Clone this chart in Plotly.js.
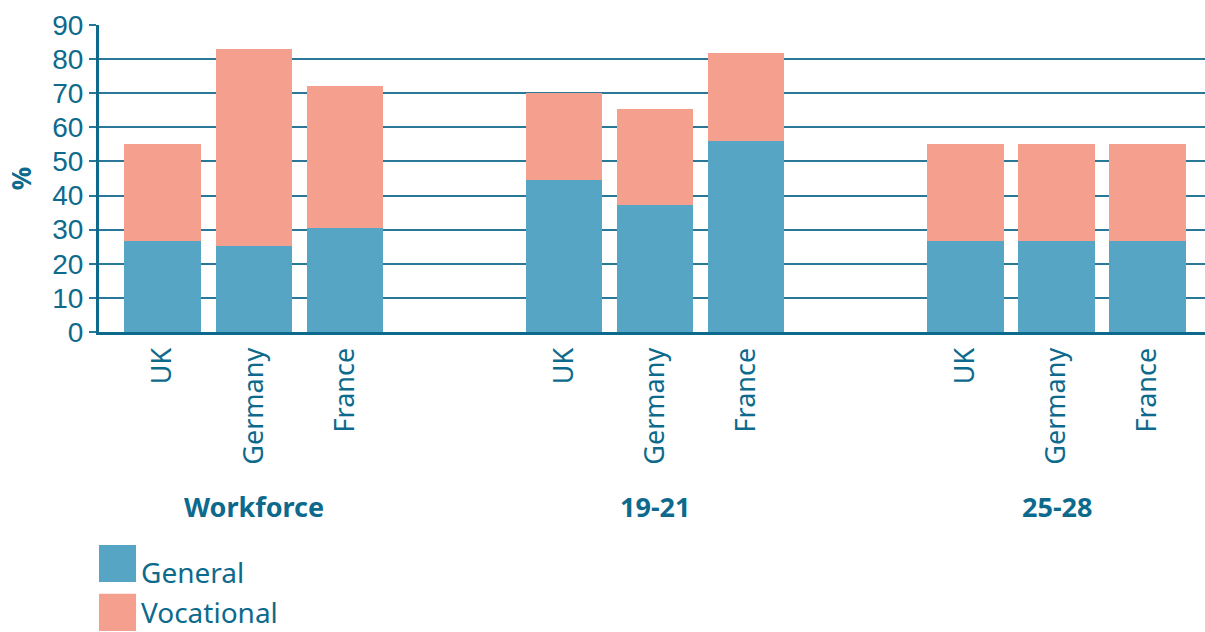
<!DOCTYPE html>
<html>
<head>
<meta charset="utf-8">
<script src="https://cdn.plot.ly/plotly-3.0.1.min.js"></script>
<style>html,body{margin:0;padding:0;background:#fff}#chart{width:1205px;height:632px}</style>
</head>
<body>
<div id="chart"></div>
<script>
const countries = ["UK", "Germany", "France", "UK", "Germany", "France", "UK", "Germany", "France"];
const groups = ["Workforce", "19-21", "25-28"];
const general = [26.7, 25.2, 30.5, 44.6, 37.2, 56.0, 26.7, 26.7, 26.7];
const vocational = [28.4, 57.8, 41.6, 25.5, 28.2, 25.8, 28.4, 28.4, 28.4];
const seriesNames = ["General", "Vocational"];
const tickVals = [0, 10, 20, 30, 40, 50, 60, 70, 80, 90];

// slot positions: three bars per group, gap between groups
const groupStart = [0, 4.41, 8.82];
const xpos = [];
groupStart.forEach(g => { for (let i = 0; i < 3; i++) xpos.push(g + i); });
const groupCenters = groupStart.map(g => g + 1);

const teal = "#0d6a8c";
const cGen = "#56a5c5";
const cVoc = "#f59f8e";
const font = "Noto Sans, Open Sans, sans-serif";

const traces = [
  {type: "bar", name: seriesNames[0], x: xpos, y: general, marker: {color: cGen, line: {width: 0}}, width: 0.84, showlegend: false, hoverinfo: "y"},
  {type: "bar", name: seriesNames[1], x: xpos, y: vocational, marker: {color: cVoc, line: {width: 0}}, width: 0.84, showlegend: false, hoverinfo: "y"}
];

const annotations = groups.map((g, i) => ({
  x: groupCenters[i], xref: "x", y: -0.57, yref: "paper", text: "<b>" + g + "</b>",
  showarrow: false, font: {family: font, size: 27, color: teal}, xanchor: "center", yanchor: "middle"
}));
annotations.push(
  {x: 0.036, xref: "paper", y: -0.782, yref: "paper", text: seriesNames[0], showarrow: false, xanchor: "left", yanchor: "middle", font: {family: font, size: 28, color: teal}},
  {x: 0.036, xref: "paper", y: -0.912, yref: "paper", text: seriesNames[1], showarrow: false, xanchor: "left", yanchor: "middle", font: {family: font, size: 28, color: teal}}
);
const shapes = [
  {type: "rect", xref: "paper", yref: "paper", x0: 0, x1: 0.0335, y0: -0.814, y1: -0.694, fillcolor: cGen, line: {width: 0}},
  {type: "rect", xref: "paper", yref: "paper", x0: 0, x1: 0.0335, y0: -0.974, y1: -0.853, fillcolor: cVoc, line: {width: 0}}
];

const layout = {
  width: 1205, height: 632,
  margin: {l: 99, r: 0, t: 25, b: 300},
  barmode: "stack",
  paper_bgcolor: "#fff", plot_bgcolor: "#fff",
  font: {family: font, color: teal},
  xaxis: {
    range: [-0.70, 11.45], tickmode: "array", tickvals: xpos, ticktext: countries,
    tickangle: -90, tickfont: {family: font, size: 27, color: teal},
    ticks: "outside", ticklen: 2, tickcolor: "rgba(0,0,0,0)",
    showgrid: false, zeroline: false, showline: true, linecolor: teal, linewidth: 3
  },
  yaxis: {
    range: [0, 90], tickmode: "array", tickvals: tickVals,
    tickfont: {family: "Liberation Sans, Arial, sans-serif", size: 28, color: teal},
    ticks: "outside", ticklen: 7, tickcolor: "#2a7897", tickwidth: 2,
    showgrid: true, gridcolor: "#2a7897", gridwidth: 2,
    zeroline: false, showline: true, linecolor: teal, linewidth: 3,
    title: {text: "<b>%</b>", font: {family: font, size: 26, color: teal}, standoff: 14}
  },
  annotations: annotations,
  shapes: shapes
};
Plotly.newPlot("chart", traces, layout, {displayModeBar: false, staticPlot: true});
</script>
</body>
</html>
